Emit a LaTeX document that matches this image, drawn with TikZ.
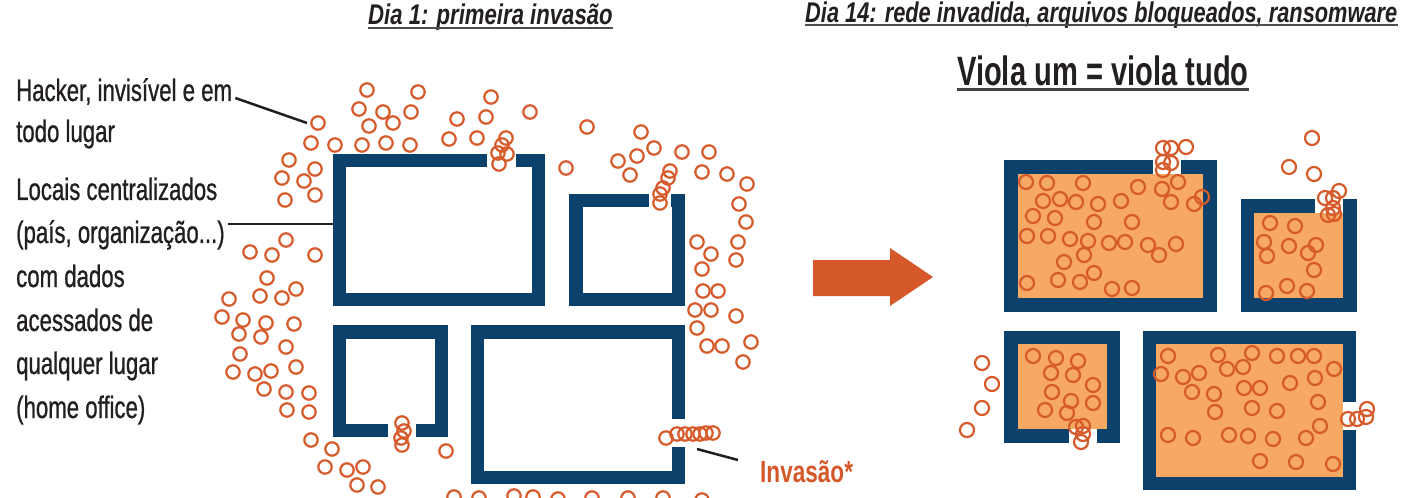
\documentclass[tikz,border=0pt]{standalone}
\usepackage{fontspec}
\setmainfont{Liberation Sans}
\newfontfamily\bodyf[FakeStretch=0.716,FakeBold=0.8]{Liberation Sans}
\newfontfamily\titf[FakeStretch=0.777]{Liberation Sans}
\newfontfamily\titff[FakeStretch=0.765]{Liberation Sans}
\newfontfamily\bigf[FakeStretch=0.71]{Liberation Sans}
\newfontfamily\invf[FakeStretch=0.74]{Liberation Sans}
\definecolor{wallblue}{HTML}{0B416A}
\definecolor{roomfill}{HTML}{F7A862}
\definecolor{circc}{HTML}{D65A2A}
\definecolor{arrowc}{HTML}{D4582A}
\definecolor{inkc}{HTML}{231F20}
\tikzset{
  wall/.style={fill=wallblue},
  room/.style={fill=white},
  hotroom/.style={fill=roomfill},
  gapc/.style={fill=white},
  circ/.style={draw=circc, line width=2.2bp},
  body/.style={inner sep=0pt, anchor=base west, text=inkc, font=\bodyf\fontsize{31bp}{36bp}\selectfont},
  titl/.style={inner sep=0pt, anchor=base west, text=inkc, font=\titf\bfseries\itshape\fontsize{28.5bp}{34bp}\selectfont},
  titll/.style={inner sep=0pt, anchor=base west, text=inkc, font=\titff\bfseries\itshape\fontsize{28.5bp}{34bp}\selectfont},
  bigt/.style={inner sep=0pt, anchor=base west, text=inkc, font=\bigf\bfseries\fontsize{41bp}{48bp}\selectfont},
  invt/.style={inner sep=0pt, anchor=base west, text=arrowc, font=\invf\bfseries\fontsize{30.5bp}{36bp}\selectfont},
  lead/.style={draw=inkc, line width=2.5bp},
  ul/.style={draw=inkc!80, line width=2bp},
  ulbig/.style={draw=inkc!85, line width=3bp}
}
\begin{document}
\begin{tikzpicture}[x=1bp,y=-1bp]
\useasboundingbox (0,0) rectangle (1401,498);
\fill[white] (0,0) rectangle (1401,498);

% ---------- titles ----------
\node[titl] (t1) at (368,25) {Dia 1: primeira invasão};
\draw[ul] ([yshift=-3bp]t1.base west) -- ([yshift=-3bp]t1.base east);
\node[titll] (t2) at (805,22.5) {Dia 14: rede invadida, arquivos bloqueados, ransomware};
\draw[ul] ([yshift=-3bp]t2.base west) -- ([yshift=-3bp]t2.base east);
\node[bigt] (t3) at (957,86) {Viola um = viola tudo};
\draw[ulbig] ([yshift=-4bp]t3.base west) -- ([yshift=-4bp]t3.base east);

% ---------- left texts ----------
\node[body] (h1) at (16,101) {Hacker, invisível e em};
\node[body] (h2) at (16,142) {todo lugar};
\node[body] (l1) at (16,200) {Locais centralizados};
\node[body] (l2) at (16,243) {(país, organização...)};
\node[body] (l3) at (16,287) {com dados};
\node[body] (l4) at (16,331) {acessados de};
\node[body] (l5) at (16,374) {qualquer lugar};
\node[body] (l6) at (16,418) {(home office)};
\node[invt] (inv) at (760,482) {Invasão*};

% ---------- left buildings ----------
% A
\fill[wall] (333,154) rectangle (545,306);
\fill[room] (346,167.5) rectangle (532,292.5);
\fill[gapc] (487,153) rectangle (516,167.6);
% B
\fill[wall] (569,194) rectangle (685,306);
\fill[room] (583,207.5) rectangle (672,292.5);
\fill[gapc] (649,193) rectangle (671,207.6);
% C
\fill[wall] (333,325) rectangle (448,437);
\fill[room] (346,338.5) rectangle (435,423.5);
\fill[gapc] (388,423.4) rectangle (416,438);
% D
\fill[wall] (471,325) rectangle (685,484);
\fill[room] (484,338.5) rectangle (672,470.5);
\fill[gapc] (671.9,419) rectangle (686,447);

% ---------- right buildings ----------
% E
\fill[wall] (1004,160) rectangle (1217,312);
\fill[hotroom] (1018,174) rectangle (1203,298);
\fill[gapc] (1153,159) rectangle (1181,174);
% F
\fill[wall] (1241,199) rectangle (1357,312);
\fill[hotroom] (1254,213) rectangle (1343,298);
\fill[gapc] (1315,198) rectangle (1343,213);
% G
\fill[wall] (1004,331) rectangle (1120,443);
\fill[hotroom] (1018,344) rectangle (1107,429);
\fill[gapc] (1069,429) rectangle (1097,444);
% H
\fill[wall] (1143,331) rectangle (1356,490);
\fill[hotroom] (1156,344) rectangle (1343,477);
\fill[gapc] (1343,402) rectangle (1357,430);

% ---------- big arrow ----------
\fill[arrowc] (813,260) -- (890,260) -- (890,248) -- (933,277) -- (890,306) -- (890,296) -- (813,296) -- cycle;

% ---------- connectors ----------
\coordinate (hk) at (307,123);
\draw[lead] ([xshift=3bp,yshift=3bp]h1.base east) -- (hk);
\coordinate (aw) at (333,224);
\draw[lead] ([xshift=3bp]l2.east |- aw) -- (aw);
\coordinate (ia) at (697,449);
\draw[lead] (ia) -- ([xshift=-22bp,yshift=22bp]inv.base west);

% ---------- left circles ----------
\foreach \cx/\cy in {367/90, 418/92, 491/97, 530/112, 359/109, 383/112, 411/112, 369/126, 393/123, 318/123, 457/119, 486/117, 311/143, 335/145, 362/145, 386/143, 410/145, 449/139, 477/138, 506/138, 502/145, 498/153, 507/154, 499/164, 289/160, 315/169, 282/178, 304/181, 285/200, 315/195,
286/240, 250/252, 272/255, 315/255, 267/278, 296/289, 260/296, 282/298, 229/299, 222/317, 243/320, 266/323, 294/324, 239/334, 261/337, 286/347, 240/354, 233/372, 255/374, 271/371, 296/367, 264/389, 286/392, 309/393, 287/410, 309/412, 402/423, 404/431, 401/438, 402/445, 311/440, 332/449, 446/451, 325/467, 347/470, 363/467, 357/485, 378/487,
587/127, 641/132, 566/168, 618/161, 637/156, 654/148, 682/152, 709/152, 630/175, 670/171, 668/178, 663/188, 660/194, 660/203, 702/172, 727/174, 747/184, 739/204, 746/222, 697/242, 711/254, 738/242, 736/260, 702/269,
703/291, 718/291, 695/310, 711/310, 736/316, 697/328, 707/346, 722/346, 751/342, 743/362,
666/438, 677/434, 685/434, 693/434, 700/434, 706/433, 713/433,
454/497, 479/498, 514/496, 533/497, 558/499, 592/498, 628/498, 663/498, 702/500}
  \draw[circ] (\cx,\cy) circle[radius=6.7bp];

% ---------- right circles ----------
\foreach \cx/\cy in {1163/148, 1171/148, 1186/147, 1163/162, 1171/163, 1163/170,
1026/182, 1047/183, 1083/183, 1138/187, 1162/189, 1178/182, 1043/201, 1060/199, 1076/202, 1098/204, 1121/201, 1171/202, 1194/204, 1202/197, 1033/216, 1055/218, 1094/222, 1132/222, 1027/236, 1048/236, 1070/239, 1088/241, 1109/243, 1125/242, 1148/245, 1176/244, 1159/255, 1084/255, 1064/262, 1094/273, 1027/283, 1058/280, 1080/282, 1112/289, 1132/288,
1312/138, 1289/167, 1314/174, 1339/191, 1325/198, 1333/198, 1333/208, 1328/215, 1334/214, 1270/223, 1295/226, 1264/242, 1289/246, 1316/245, 1267/256, 1308/253, 1314/270, 1287/286, 1307/291, 1266/293,
982/363, 992/384, 982/408, 967/430,
1033/356, 1056/358, 1078/361, 1051/373, 1073/375, 1093/385, 1052/392, 1071/401, 1093/403, 1045/410, 1067/413, 1076/427, 1083/426, 1083/434, 1081/442,
1168/356, 1218/355, 1252/353, 1277/356, 1298/356, 1314/356, 1161/374, 1183/377, 1199/373, 1227/369, 1243/367, 1334/369, 1315/378, 1290/383, 1192/392, 1214/394, 1244/388, 1260/388, 1318/402, 1252/408, 1277/411, 1215/412, 1320/426, 1168/435, 1193/438, 1229/435, 1248/436, 1273/439, 1306/438, 1260/461, 1296/462, 1333/464,
1348/419, 1357/419, 1366/417, 1367/409}
  \draw[circ] (\cx,\cy) circle[radius=7bp];
\end{tikzpicture}
\end{document}
